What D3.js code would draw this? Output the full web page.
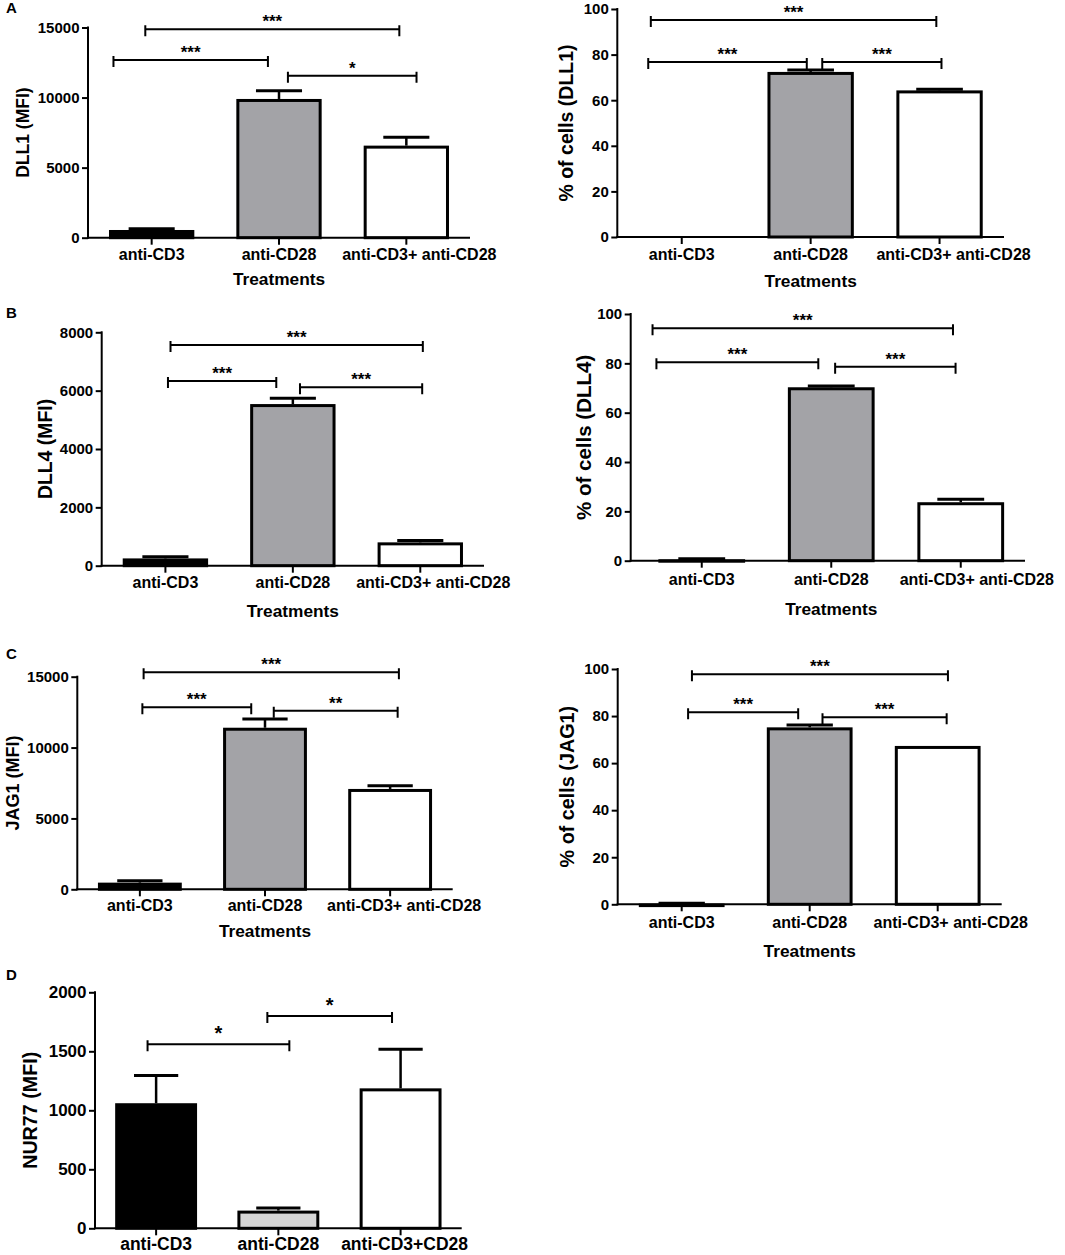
<!DOCTYPE html>
<html>
<head>
<meta charset="utf-8">
<script src="https://cdn.jsdelivr.net/npm/d3@7"></script>
<style>
  body { margin: 0; background: #fff; }
  svg { display: block; }
  text { font-family: "Liberation Sans", Arial, sans-serif; font-weight: bold; fill: #000; }
</style>
</head>
<body>
<svg id="fig" width="1065" height="1255"></svg>
<script>
// treatments on the x axis
const treatments = ["anti-CD3", "anti-CD28", "anti-CD3+ anti-CD28"];
const treatmentsNur = ["anti-CD3", "anti-CD28", "anti-CD3+CD28"];

// means and SEM
const dll1Mfi = [550, 9900, 6570];
const dll1MfiSem = [90, 590, 600];
const dll1Pct = [0, 72.4, 64.3];
const dll1PctSem = [0, 0.8, 0.5];

const dll4Mfi = [250, 5540, 800];
const dll4MfiSem = [55, 200, 68];
const dll4Pct = [0.6, 70.3, 23.7];
const dll4PctSem = [0.2, 0.5, 1.2];

const jag1Mfi = [470, 11400, 7080];
const jag1MfiSem = [140, 615, 230];
const jag1Pct = [0.3, 75.2, 67.3];
const jag1PctSem = [0.1, 1.0, 0];

const nur77Mfi = [1060, 150, 1186];
const nur77MfiSem = [234, 21, 331];

// y tick labels
const ticks15000 = [0, 5000, 10000, 15000];
const ticks8000 = [0, 2000, 4000, 6000, 8000];
const ticks2000 = [0, 500, 1000, 1500, 2000];
const ticksPct = [0, 20, 40, 60, 80, 100];

// significance brackets: [from category, to category, height in data units, label]
const dll1MfiSig = [[-0.05, 1.945, 14870, "***"], [-0.30, 0.913, 12680, "***"], [1.07, 2.08, 11560, "*"]];
const dll1PctSig = [[-0.24, 1.975, 95.2, "***"], [-0.26, 0.97, 76.75, "***"], [1.09, 2.015, 76.75, "***"]];
const dll4MfiSig = [[0.04, 2.02, 7565, "***"], [0.02, 0.87, 6331, "***"], [1.056, 2.015, 6115, "***"]];
const dll4PctSig = [[-0.38, 1.94, 94.2, "***"], [-0.35, 0.90, 80.4, "***"], [1.03, 1.96, 78.6, "***"]];
const jag1MfiSig = [[0.03, 2.07, 15310, "***"], [0.02, 0.89, 12840, "***"], [1.07, 2.06, 12600, "**"]];
const jag1PctSig = [[0.08, 2.08, 97.75, "***"], [0.05, 0.91, 81.6, "***"], [1.10, 2.07, 79.5, "***"]];
const nur77Sig = [[-0.07, 1.09, 1559, "*"], [0.91, 1.93, 1799, "*"]];

const fills = ["#000000", "#a3a3a7", "#ffffff"];
const fillsNur = ["#000000", "#d5d5d5", "#ffffff"];

const panels = [
  { cats: treatments, means: dll1Mfi, sems: dll1MfiSem, ticks: ticks15000, sig: dll1MfiSig, fills: fills,
    ylabel: "DLL1 (MFI)", xtitle: "Treatments",
    x0: 88, x1: 470, top: 27.5, bot: 237.7, labX: 28.5, labSize: 17.5, catPad: 3.5, titleY: 285,
    lastDx: 13, letter: "A", letterY: 13 },
  { cats: treatments, means: dll1Pct, sems: dll1PctSem, ticks: ticksPct, sig: dll1PctSig, fills: fills,
    ylabel: "% of cells (DLL1)", xtitle: "Treatments",
    x0: 617.3, x1: 1004, top: 9, bot: 237, labX: 573, labSize: 19.5, catPad: 4.5, titleY: 287,
    lastDx: 14 },
  { cats: treatments, means: dll4Mfi, sems: dll4MfiSem, ticks: ticks8000, sig: dll4MfiSig, fills: fills,
    ylabel: "DLL4 (MFI)", xtitle: "Treatments",
    x0: 101.7, x1: 484, top: 332.3, bot: 565.7, labX: 52, labSize: 19.4, catPad: 4, titleY: 617,
    lastDx: 13, letter: "B", letterY: 318 },
  { cats: treatments, means: dll4Pct, sems: dll4PctSem, ticks: ticksPct, sig: dll4PctSig, fills: fills,
    ylabel: "% of cells (DLL4)", xtitle: "Treatments", band: [637, 1025.5],
    x0: 630.7, x1: 1025, top: 314, bot: 560.7, labX: 591, labSize: 20.5, catPad: 5.5, titleY: 615,
    lastDx: 16 },
  { cats: treatments, means: jag1Mfi, sems: jag1MfiSem, ticks: ticks15000, sig: jag1MfiSig, fills: fills,
    ylabel: "JAG1 (MFI)", xtitle: "Treatments",
    x0: 77.3, x1: 452.7, top: 676.7, bot: 889.3, labX: 19, labSize: 18, catPad: 3.5, titleY: 937,
    lastDx: 14, letter: "C", letterY: 659 },
  { cats: treatments, means: jag1Pct, sems: jag1PctSem, ticks: ticksPct, sig: jag1PctSig, fills: fills,
    ylabel: "% of cells (JAG1)", xtitle: "Treatments",
    x0: 617.7, x1: 1001.7, top: 669, bot: 904.3, labX: 574, labSize: 19.8, catPad: 5.5, titleY: 957,
    lastDx: 13 },
  { cats: treatmentsNur, means: nur77Mfi, sems: nur77MfiSem, ticks: ticks2000, sig: nur77Sig, fills: fillsNur,
    ylabel: "NUR77 (MFI)", xtitle: null, big: true,
    x0: 95, x1: 461.7, top: 992.3, bot: 1228.3, labX: 37, labSize: 19.7, catPad: 2.5, titleY: null,
    lastDx: 4, letter: "D", letterY: 980 }
];

const svg = d3.select("#fig");

panels.forEach(p => {
  const g = svg.append("g");
  const tickFont = p.big ? 17 : 15;
  const catFont = p.big ? 17.5 : 16;
  const starFont = p.big ? 20 : 17;

  const x = d3.scaleBand()
    .domain(p.cats)
    .range(p.band || [p.x0, p.x1])
    .paddingInner(0.33)
    .paddingOuter(0.165);
  const bw = x.bandwidth();
  const cx = c => x(c) + bw / 2;
  const xi = d3.scaleLinear().domain([0, 2]).range([cx(p.cats[0]), cx(p.cats[2])]);

  const y = d3.scaleLinear()
    .domain([0, d3.max(p.ticks)])
    .range([p.bot, p.top]);

  const rows = p.cats.map((c, i) => ({ cat: c, mean: p.means[i], sem: p.sems[i], fill: p.fills[i] }));

  // bars
  g.selectAll("rect.bar")
    .data(rows.filter(d => d.mean > 0))
    .join("rect")
    .attr("class", "bar")
    .attr("x", d => x(d.cat) + 1.5)
    .attr("width", bw - 3)
    .attr("y", d => y(d.mean) + 1.5)
    .attr("height", d => Math.max(0.5, p.bot - y(d.mean) - 1.5))
    .attr("fill", d => d.fill)
    .attr("stroke", "#000")
    .attr("stroke-width", 3);

  // error bars (upper only)
  const err = g.selectAll("g.err")
    .data(rows.filter(d => d.sem > 0))
    .join("g")
    .attr("class", "err");
  err.append("line")
    .attr("x1", d => cx(d.cat)).attr("x2", d => cx(d.cat))
    .attr("y1", d => y(d.mean)).attr("y2", d => y(d.mean + d.sem))
    .attr("stroke", "#000").attr("stroke-width", 2.5);
  err.append("line")
    .attr("x1", d => cx(d.cat) - bw * 0.27).attr("x2", d => cx(d.cat) + bw * 0.27)
    .attr("y1", d => y(d.mean + d.sem)).attr("y2", d => y(d.mean + d.sem))
    .attr("stroke", "#000").attr("stroke-width", 3);

  // axes
  const yAxis = d3.axisLeft(y)
    .tickValues(p.ticks)
    .tickFormat(d3.format("d"))
    .tickSize(6)
    .tickSizeOuter(0)
    .tickPadding(2.5);
  const ya = g.append("g")
    .attr("transform", `translate(${p.x0},0)`)
    .call(yAxis);
  ya.select(".domain").remove();
  ya.selectAll("line").attr("stroke-width", 2);
  ya.selectAll("text")
    .style("font-size", tickFont + "px")
    .style("font-family", '"Liberation Sans", Arial, sans-serif')
    .style("font-weight", "bold");

  const xAxis = d3.axisBottom(x)
    .tickSize(7)
    .tickSizeOuter(0)
    .tickPadding(p.catPad);
  const xa = g.append("g")
    .attr("transform", `translate(0,${p.bot})`)
    .call(xAxis);
  xa.select(".domain").remove();
  xa.selectAll("line").attr("stroke-width", 2);
  xa.selectAll("text")
    .attr("dx", (d, i) => i === p.cats.length - 1 ? p.lastDx : 0)
    .style("font-size", catFont + "px")
    .style("font-family", '"Liberation Sans", Arial, sans-serif')
    .style("font-weight", "bold");

  g.append("line")
    .attr("x1", p.x0).attr("x2", p.x0)
    .attr("y1", p.top - 1).attr("y2", p.bot + 1)
    .attr("stroke", "#000").attr("stroke-width", 2);
  g.append("line")
    .attr("x1", p.x0 - 1).attr("x2", p.x1)
    .attr("y1", p.bot).attr("y2", p.bot)
    .attr("stroke", "#000").attr("stroke-width", 2);

  // significance brackets
  const br = g.selectAll("g.sig")
    .data(p.sig)
    .join("g")
    .attr("class", "sig");
  br.append("path")
    .attr("d", d => {
      const a = xi(d[0]), b = xi(d[1]), h = y(d[2]);
      return `M${a},${h - 4}V${h + 7}M${a},${h}H${b}M${b},${h - 4}V${h + 7}`;
    })
    .attr("fill", "none")
    .attr("stroke", "#000")
    .attr("stroke-width", 2);
  br.append("text")
    .attr("x", d => (xi(d[0]) + xi(d[1])) / 2)
    .attr("y", d => y(d[2]) - (p.big ? 4.5 : 2))
    .attr("text-anchor", "middle")
    .style("font-size", starFont + "px")
    .text(d => d[3]);

  // axis titles
  g.append("text")
    .attr("transform", `translate(${p.labX},${(p.top + p.bot) / 2}) rotate(-90)`)
    .attr("text-anchor", "middle")
    .style("font-size", p.labSize + "px")
    .text(p.ylabel);

  if (p.xtitle) {
    g.append("text")
      .attr("x", cx(p.cats[1]))
      .attr("y", p.titleY)
      .attr("text-anchor", "middle")
      .style("font-size", "17.3px")
      .text(p.xtitle);
  }

  if (p.letter) {
    g.append("text")
      .attr("x", 6)
      .attr("y", p.letterY)
      .style("font-size", "15px")
      .text(p.letter);
  }
});
</script>
</body>
</html>
